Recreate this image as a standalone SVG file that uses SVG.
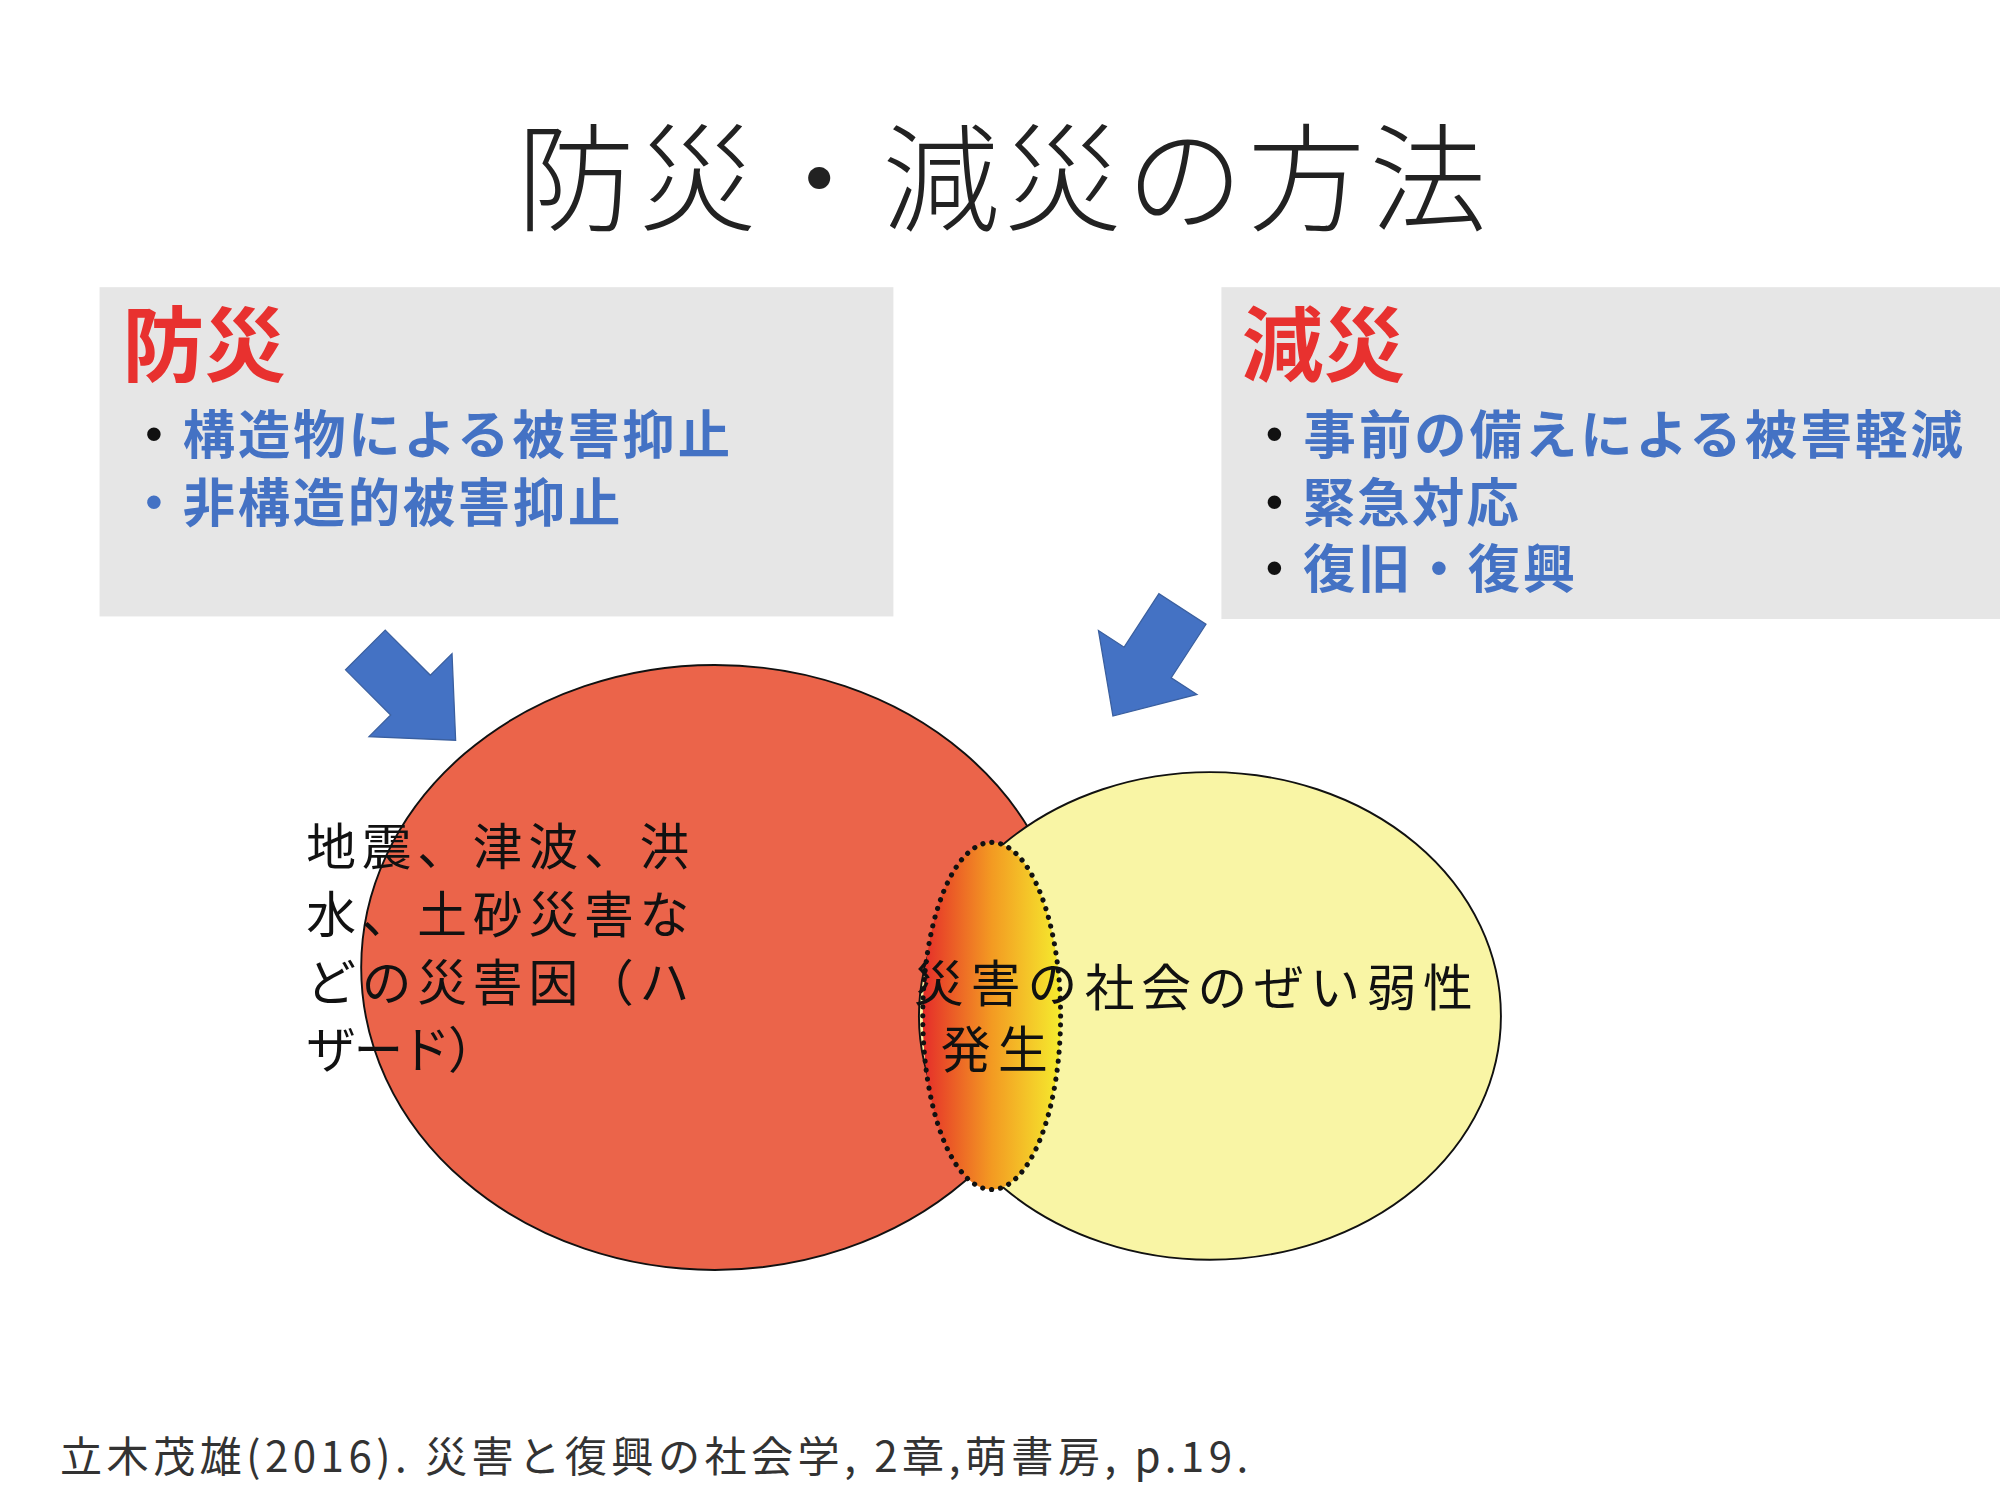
<svg xmlns="http://www.w3.org/2000/svg" width="2000" height="1500" viewBox="0 0 2000 1500">
<defs>
<style>
text{font-family:"Noto Sans CJK JP","Noto Sans",sans-serif}
.h{font-size:64px;font-weight:700;fill:#e8312f}
.b{font-size:41px;font-weight:700;fill:#4472c4}
.t{font-size:39px;fill:#111}
.arrow{fill:#4472c4;stroke:#3a5f9f;stroke-width:1}
</style>
<linearGradient id="g" x1="0" y1="0" x2="1" y2="0">
<stop offset="0" stop-color="#e52d2a"/><stop offset="0.5" stop-color="#f39a22"/><stop offset="1" stop-color="#f5ec2e"/>
</linearGradient>
</defs>
<rect width="2000" height="1500" fill="#fff"/>
<g transform="scale(1.2763)">
<g id="title"><text x="405" y="174" textLength="760" font-size="92" font-weight="300" fill="#222">防災・減災の方法</text></g>
<g id="bousai">
<rect x="78" y="225" width="622" height="258" fill="#e6e6e6"/>
<text class="h" x="96" y="294">防災</text>
<text class="b" x="100" y="356" textLength="472"><tspan fill="#111">・</tspan>構造物による被害抑止</text>
<text class="b" x="100" y="409" textLength="386">・非構造的被害抑止</text>
</g>
<g id="gensai">
<rect x="957" y="225" width="610" height="260" fill="#e6e6e6"/>
<text class="h" x="973" y="294">減災</text>
<text class="b" x="978" y="356" textLength="560"><tspan fill="#111">・</tspan>事前の備えによる被害軽減</text>
<text class="b" x="978" y="409" textLength="212"><tspan fill="#111">・</tspan>緊急対応</text>
<text class="b" x="978" y="461" textLength="256"><tspan fill="#111">・</tspan>復旧・復興</text>
</g>
<g id="connectors">
<polygon class="arrow" transform="translate(357,580) rotate(45)" points="-100,-22 -50,-22 -50,-46 0,0 -50,46 -50,22 -100,22"/>
<polygon class="arrow" transform="translate(872,561) rotate(123)" points="-100,-22 -50,-22 -50,-46 0,0 -50,46 -50,22 -100,22"/>
</g>
<g id="hazard">
<ellipse cx="560" cy="758" rx="277" ry="237" fill="#eb644a" stroke="#111" stroke-width="1.5"/>
</g>
<g id="vulnerability">
<ellipse cx="948" cy="796" rx="228" ry="191" fill="#f9f5a5" stroke="#111" stroke-width="1.5"/>
</g>
<g id="disaster">
<ellipse cx="777" cy="796" rx="54" ry="136" fill="url(#g)" stroke="#111" stroke-width="4" stroke-dasharray="0.1 7" stroke-linecap="round"/>
</g>
<g id="labels">
<text class="t" x="240" y="678" textLength="300">地震、津波、洪</text>
<text class="t" x="240" y="731" textLength="300">水、土砂災害な</text>
<text class="t" x="240" y="784" textLength="300">どの災害因（ハ</text>
<text class="t" x="240" y="837" textLength="150">ザード）</text>
<text class="t" x="716" y="785" textLength="128">災害の</text>
<text class="t" x="737" y="837" textLength="84">発生</text>
<text class="t" x="850" y="788" textLength="304">社会のぜい弱性</text>
</g>
<g id="citation"><text x="47" y="1153" font-size="33" fill="#333" textLength="931">立木茂雄(2016). 災害と復興の社会学, 2章,萌書房, p.19.</text></g>
</g>
</svg>
